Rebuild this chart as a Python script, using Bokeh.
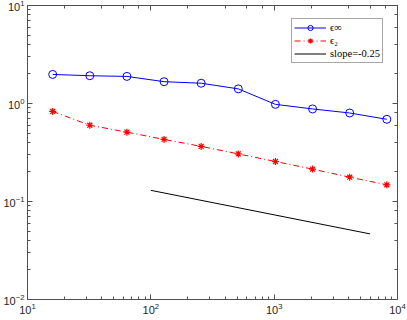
from bokeh.plotting import figure
from bokeh.models import LogAxis, Legend, LegendItem
from bokeh.embed import file_html
from bokeh.resources import INLINE

# data
n = [16, 32, 64, 128, 256, 512, 1024, 2048, 4096, 8192]
err_inf = [1.98, 1.92, 1.89, 1.67, 1.61, 1.41, 0.98, 0.88, 0.80, 0.69]
err_2 = [0.83, 0.60, 0.51, 0.43, 0.365, 0.306, 0.256, 0.214, 0.177, 0.148]
slope_x = [100, 6000]
slope_y = [0.13, 0.0467]

AX = "#505050"
FONT = "Liberation Sans"

p = figure(width=407, height=320, x_axis_type="log", y_axis_type="log",
           x_range=(10, 10000), y_range=(0.01, 10),
           output_backend="svg", toolbar_location=None,
           min_border_left=26, min_border_right=10, min_border_top=5, min_border_bottom=21)
p.grid.visible = False
p.outline_line_color = AX
p.background_fill_color = "white"
p.border_fill_color = "white"


def style_axis(ax, labels=True):
    ax.axis_line_color = AX
    ax.major_tick_line_color = AX
    ax.minor_tick_line_color = AX
    ax.major_tick_in = 5
    ax.major_tick_out = 0
    ax.minor_tick_in = 3
    ax.minor_tick_out = 0
    ax.major_label_text_font = FONT
    ax.major_label_text_color = "#262626"
    if labels:
        ax.major_label_text_font_size = "11px"
        ax.major_label_standoff = 3
    else:
        ax.major_label_text_font_size = "1px"
        ax.major_label_text_alpha = 0
        ax.major_label_standoff = 0


style_axis(p.xaxis[0])
style_axis(p.yaxis[0])
top = LogAxis()
right = LogAxis()
style_axis(top, labels=False)
style_axis(right, labels=False)
p.add_layout(top, "above")
p.add_layout(right, "right")

l1 = p.line(n, err_inf, line_color="#0000FF", line_width=1)
m1 = p.scatter(n, err_inf, marker="circle", size=8, line_color="#0000FF",
               fill_color=None, line_width=1)
l2 = p.line(n, err_2, line_color="#FF0000", line_width=1, line_dash="6 3 1 3")
m2 = p.scatter(n, err_2, marker="asterisk", size=7, line_color="#FF0000", line_width=1.2)
l3 = p.line(slope_x, slope_y, line_color="black", line_width=1)

legend = Legend(items=[
    LegendItem(label="ϵ∞", renderers=[l1, m1]),
    LegendItem(label="ϵ₂", renderers=[l2, m2]),
    LegendItem(label="slope=-0.25", renderers=[l3]),
], location=(264, 236))
legend.margin = 0
legend.padding = 2
legend.spacing = 0
legend.glyph_width = 32
legend.glyph_height = 13
legend.label_height = 13
legend.label_standoff = 4
legend.label_text_font = "Liberation Serif"
legend.label_text_font_size = "10.5px"
legend.label_text_line_height = 1.0
legend.label_text_color = "black"
legend.border_line_color = AX
legend.border_line_width = 1
legend.background_fill_color = "white"
legend.background_fill_alpha = 1
p.add_layout(legend)

open("out.html", "w").write(file_html(p, INLINE))
